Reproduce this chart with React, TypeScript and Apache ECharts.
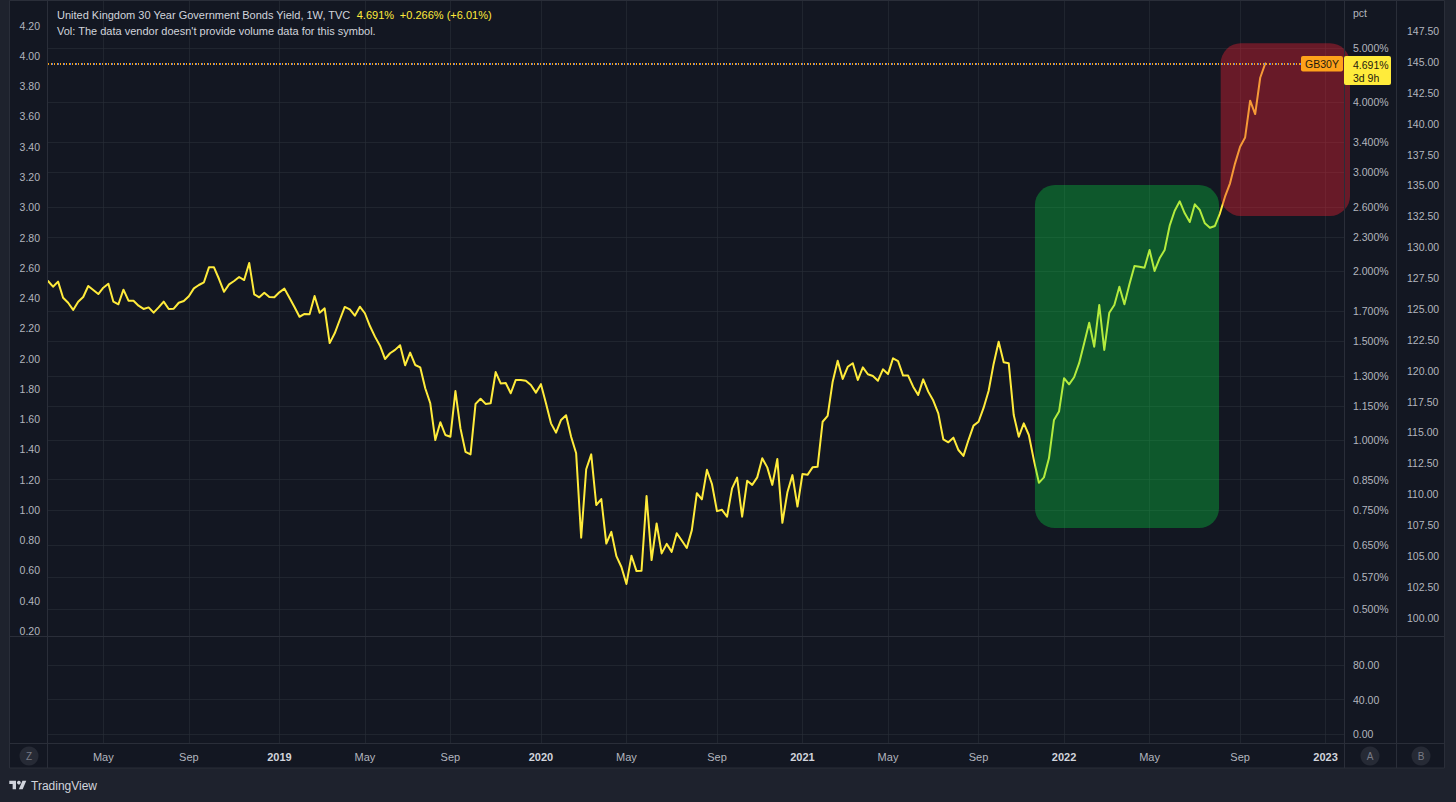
import React, { useEffect, useRef } from "react";
import * as echarts from "echarts";

// ---------- data ----------
const START_WEEK = "2018-02-19"; // first weekly bar (Monday)
const AXIS_FIRST_DAY = "2018-02-19";
const AXIS_LAST_DAY = "2023-01-29";

const YIELDS: number[] = [
  1.921, 1.877, 1.916, 1.794, 1.757, 1.706, 1.765, 1.799, 1.882, 1.851,
  1.821, 1.869, 1.9, 1.765, 1.746, 1.854, 1.772, 1.772, 1.736, 1.713,
  1.724, 1.687, 1.724, 1.765, 1.713, 1.715, 1.757, 1.77, 1.804, 1.864,
  1.89, 1.911, 2.032, 2.032, 1.937, 1.838, 1.895, 1.921, 1.953, 1.929,
  2.069, 1.819, 1.797, 1.831, 1.799, 1.797, 1.834, 1.862, 1.794, 1.727,
  1.659, 1.678, 1.676, 1.806, 1.687, 1.717, 1.489, 1.55, 1.637, 1.727,
  1.71, 1.666, 1.729, 1.683, 1.597, 1.529, 1.473, 1.395, 1.428, 1.448,
  1.476, 1.359, 1.432, 1.361, 1.348, 1.237, 1.163, 1.0, 1.076, 1.021,
  1.014, 1.223, 1.049, 0.953, 0.943, 1.16, 1.185, 1.16, 1.163, 1.322,
  1.262, 1.264, 1.212, 1.28, 1.28, 1.276, 1.254, 1.215, 1.258, 1.163,
  1.071, 1.031, 1.086, 1.107, 1.014, 0.947, 0.67, 0.887, 0.943, 0.766,
  0.785, 0.654, 0.686, 0.621, 0.594, 0.554, 0.622, 0.584, 0.585, 0.795,
  0.611, 0.71, 0.628, 0.653, 0.632, 0.682, 0.662, 0.642, 0.691, 0.804,
  0.784, 0.885, 0.835, 0.747, 0.751, 0.73, 0.82, 0.857, 0.73, 0.846,
  0.832, 0.858, 0.928, 0.894, 0.832, 0.925, 0.712, 0.807, 0.866, 0.761,
  0.87, 0.867, 0.894, 0.896, 1.078, 1.104, 1.271, 1.385, 1.285, 1.351,
  1.371, 1.28, 1.348, 1.31, 1.301, 1.276, 1.337, 1.311, 1.399, 1.383,
  1.303, 1.303, 1.245, 1.203, 1.283, 1.22, 1.176, 1.116, 1.003, 0.991,
  1.01, 0.96, 0.937, 1.0, 1.061, 1.078, 1.141, 1.223, 1.367, 1.497,
  1.376, 1.371, 1.108, 1.014, 1.071, 1.021, 0.921, 0.839, 0.858, 0.928,
  1.086, 1.124, 1.289, 1.257, 1.294, 1.371, 1.488, 1.619, 1.467, 1.741,
  1.448, 1.687, 1.741, 1.877, 1.746, 1.895, 2.043, 2.037, 2.029, 2.182,
  2.002, 2.109, 2.182, 2.411, 2.564, 2.665, 2.537, 2.447, 2.632, 2.571,
  2.435, 2.391, 2.408, 2.537, 2.716, 2.869, 3.114, 3.334, 3.463, 4.027,
  3.813, 4.425, 4.691,
];

const PCT_TICKS = [0.5, 0.57, 0.65, 0.75, 0.85, 1, 1.15, 1.3, 1.5, 1.7, 2, 2.3, 2.6, 3, 3.4, 4, 5];
const PCT_RANGE = [0.4474, 6.064];
const LEFT_TICKS = [0.2, 0.4, 0.6, 0.8, 1.0, 1.2, 1.4, 1.6, 1.8, 2.0, 2.2, 2.4, 2.6, 2.8, 3.0, 3.2, 3.4, 3.6, 3.8, 4.0, 4.2];
const LEFT_RANGE = [0.167, 4.363];
const RIGHT_TICKS = [100, 102.5, 105, 107.5, 110, 112.5, 115, 117.5, 120, 122.5, 125, 127.5, 130, 132.5, 135, 137.5, 140, 142.5, 145, 147.5];
const RIGHT_RANGE = [98.52, 149.94];
const LOWER_TICKS = [0, 40, 80];
const LOWER_RANGE = [-10.43, 112.46];
const TIME_TICKS = [
  "2018-05-07", "2018-09-03", "2019-01-07", "2019-05-06", "2019-09-02",
  "2020-01-06", "2020-05-04", "2020-09-07", "2021-01-04", "2021-05-03",
  "2021-09-06", "2022-01-03", "2022-05-02", "2022-09-05", "2023-01-02",
];
const MONTHS = ["Jan", "Feb", "Mar", "Apr", "May", "Jun", "Jul", "Aug", "Sep", "Oct", "Nov", "Dec"];

// highlighted ranges (time from, time to, yield low, yield high)
const BOX_FROM = ["2021-11-23T12:00:00Z", "2022-08-09T00:00:00Z"];
const BOX_TO = ["2022-08-06T17:00:00Z", "2023-02-05T00:00:00Z"];
const BOX_LOW = [0.697, 2.509];
const BOX_HIGH = [2.849, 5.097];

const SYMBOL = "GB30Y";
const TITLE = "United Kingdom 30 Year Government Bonds Yield, 1W, TVC";
const VOL_NOTE = "Vol: The data vendor doesn't provide volume data for this symbol.";
const COUNTDOWN = "3d 9h";

// ---------- styles ----------
const FONT = "'Liberation Sans', Arial, sans-serif";
const BOX_COLORS = ["rgba(4, 240, 70, 0.3)", "rgba(232, 33, 50, 0.4)"];
const GRID_COLOR = "rgba(42, 46, 57, 0.6)";
const SEP_COLOR = "#2a2e39";
const TEXT = "#b2b5be";
const LIGHT = "#d1d4dc";
const YELLOW = "#ffeb3b";

const DAY = 86400000;
const utc = (s: string) => Date.parse(s.length === 10 ? s + "T00:00:00Z" : s);
const t0 = utc(START_WEEK);
const WEEKS = YIELDS.map((_, i) => t0 + i * 7 * DAY);
const X_MIN = utc(AXIS_FIRST_DAY);
const X_MAX = utc(AXIS_LAST_DAY);
const TIME_TS = TIME_TICKS.map(utc);
const LAST = YIELDS[YIELDS.length - 1];
const PREV = YIELDS[YIELDS.length - 2];

const TV_PATH = "M14 22H7V11H0V4h14v18zM28 22h-8l7.5-18h8L28 22z";
echarts.graphic.registerShape("tvlogo", echarts.graphic.extendPath(TV_PATH, {}) as any);

function timeFormatter(v: number) {
  const d = new Date(v);
  return d.getUTCMonth() === 0 ? `{y|${d.getUTCFullYear()}}` : `{m|${MONTHS[d.getUTCMonth()]}}`;
}

function buildOption(): any {
  const yLabel = { color: TEXT, fontSize: 10.5, fontFamily: FONT };
  const xAxisBase = {
    type: "value",
    min: X_MIN,
    max: X_MAX,
    axisLine: { show: false },
    axisTick: { show: false, customValues: TIME_TS },
    splitLine: { show: true, lineStyle: { color: GRID_COLOR, width: 1 } },
  };
  return {
    animation: false,
    backgroundColor: "#1e222d",
    textStyle: { fontFamily: FONT },
    grid: [
      { left: 48, right: 111, top: 1, height: 635 },
      { left: 48, right: 111, top: 637, height: 106 },
    ],
    xAxis: [
      { ...xAxisBase, gridIndex: 0, axisLabel: { show: false, customValues: TIME_TS } },
      {
        ...xAxisBase,
        gridIndex: 1,
        axisLabel: {
          customValues: TIME_TS,
          formatter: timeFormatter,
          margin: 8,
          rich: {
            y: { color: LIGHT, fontSize: 11, fontFamily: FONT, fontWeight: "bold" },
            m: { color: TEXT, fontSize: 11, fontFamily: FONT },
          },
        },
      },
    ],
    yAxis: [
      { type: "log", logBase: 10, gridIndex: 0, min: PCT_RANGE[0], max: PCT_RANGE[1], show: false },
      {
        type: "value",
        gridIndex: 0,
        position: "right",
        min: Math.log10(PCT_RANGE[0]),
        max: Math.log10(PCT_RANGE[1]),
        axisLine: { show: false },
        axisTick: { show: false, customValues: PCT_TICKS.map(Math.log10) },
        axisLabel: {
          ...yLabel,
          margin: 8,
          customValues: PCT_TICKS.map(Math.log10),
          formatter: (v: number) => Math.pow(10, v).toFixed(3) + "%",
        },
        splitLine: { show: true, lineStyle: { color: GRID_COLOR, width: 1 } },
      },
      {
        type: "value",
        gridIndex: 0,
        position: "left",
        min: LEFT_RANGE[0],
        max: LEFT_RANGE[1],
        axisLine: { show: false },
        axisTick: { show: false, customValues: LEFT_TICKS },
        axisLabel: { ...yLabel, margin: 8, customValues: LEFT_TICKS, formatter: (v: number) => v.toFixed(2) },
        splitLine: { show: false },
      },
      {
        type: "value",
        gridIndex: 0,
        position: "right",
        offset: 52,
        min: RIGHT_RANGE[0],
        max: RIGHT_RANGE[1],
        axisLine: { show: false },
        axisTick: { show: false, customValues: RIGHT_TICKS },
        axisLabel: { ...yLabel, margin: 10, customValues: RIGHT_TICKS, formatter: (v: number) => v.toFixed(2) },
        splitLine: { show: false },
      },
      {
        type: "value",
        gridIndex: 1,
        position: "right",
        min: LOWER_RANGE[0],
        max: LOWER_RANGE[1],
        axisLine: { show: false },
        axisTick: { show: false, customValues: LOWER_TICKS },
        axisLabel: { ...yLabel, margin: 8, customValues: LOWER_TICKS, formatter: (v: number) => v.toFixed(2) },
        splitLine: { show: true, lineStyle: { color: GRID_COLOR, width: 1 } },
      },
    ],
    series: [
      {
        type: "line",
        name: SYMBOL,
        xAxisIndex: 0,
        yAxisIndex: 0,
        data: WEEKS.map((t, i) => [t, YIELDS[i]]),
        showSymbol: false,
        symbol: "none",
        lineStyle: { color: YELLOW, width: 2, join: "round", cap: "round" },
        z: 3,
        markLine: {
          silent: true,
          symbol: ["none", "none"],
          label: { show: false },
          data: [
            { yAxis: LAST, lineStyle: { color: "#f7a21b", width: 2, type: [1, 2], dashOffset: 0 } },
            { yAxis: LAST, lineStyle: { color: "#4f7ff0", width: 2, type: [1, 5], dashOffset: 1.5 } },
          ],
        },
      },
      {
        type: "custom",
        xAxisIndex: 0,
        yAxisIndex: 0,
        silent: true,
        clip: false,
        z: 4,
        encode: { x: [0, 2], y: [1, 3] },
        data: BOX_FROM.map((f, i) => [utc(f), BOX_LOW[i], utc(BOX_TO[i]), BOX_HIGH[i]]),
        renderItem: (params: any, api: any) => {
          const a = api.coord([api.value(0), api.value(3)]);
          const b = api.coord([api.value(2), api.value(1)]);
          return {
            type: "rect",
            shape: { x: a[0], y: a[1], width: b[0] - a[0], height: b[1] - a[1], r: 20 },
            style: { fill: BOX_COLORS[params.dataIndex] },
          };
        },
      },
    ],
  };
}

function txt(x: number, y: number, text: string, extra: any = {}, z = 20): any {
  return {
    type: "text",
    x,
    y,
    z,
    silent: true,
    style: {
      text,
      fill: extra.fill || TEXT,
      fontSize: extra.fontSize || 10.5,
      fontFamily: FONT,
      fontWeight: extra.fontWeight || "normal",
      align: extra.align || "left",
      textAlign: extra.align || "left",
      verticalAlign: "middle",
      textVerticalAlign: "middle",
      rich: extra.rich,
    },
  };
}

function line(x1: number, y1: number, x2: number, y2: number): any {
  return {
    type: "line",
    z: 5,
    silent: true,
    shape: { x1, y1, x2, y2 },
    style: { stroke: SEP_COLOR, lineWidth: 1 },
  };
}

function button(cx: number, cy: number, label: string): any[] {
  return [
    { type: "circle", z: 6, silent: true, shape: { cx, cy, r: 9.5 }, style: { fill: "#262a35" } },
    txt(cx, cy, label, { align: "center", fill: "#787b86", fontSize: 10 }, 7),
  ];
}

function buildGraphics(py: number): any[] {
  const change = LAST - PREV;
  const changePct = (change / PREV) * 100;
  const sign = change >= 0 ? "+" : "";
  const header =
    `{t|${TITLE}}  {v|${LAST.toFixed(3)}%}  {v|${sign}${change.toFixed(3)}% (${sign}${changePct.toFixed(2)}%)}`;
  return [
    {
      type: "rect",
      z: -10,
      silent: true,
      shape: { x: 9.5, y: 0.5, width: 1435, height: 767.5 },
      style: { fill: "#131722", stroke: SEP_COLOR, lineWidth: 1 },
    },
    line(47.5, 0, 47.5, 768),
    line(1344.5, 0, 1344.5, 768),
    line(1396.5, 0, 1396.5, 768),
    line(9, 636.5, 1445, 636.5),
    line(9, 743.5, 1445, 743.5),
    txt(57, 15, header, {
      rich: {
        t: { fill: LIGHT, color: LIGHT, fontSize: 11, fontFamily: FONT },
        v: { fill: YELLOW, color: YELLOW, fontSize: 11, fontFamily: FONT },
      },
    }),
    txt(57, 31, VOL_NOTE, { fill: LIGHT, fontSize: 11 }),
    txt(1353, 13, "pct", { fill: TEXT, fontSize: 10.5 }),
    ...button(29, 756, "Z"),
    ...button(1370, 756, "A"),
    ...button(1421, 756, "B"),
    { type: "tvlogo", x: 9.3, y: 778.8, scaleX: 0.478, scaleY: 0.478, z: 6, silent: true, style: { fill: LIGHT } },
    { type: "circle", z: 6, silent: true, shape: { cx: 18.9, cy: 782.6, r: 1.9 }, style: { fill: LIGHT } },
    txt(31, 786, "TradingView", { fill: LIGHT, fontSize: 12 }),
    // last value labels
    {
      type: "rect",
      z: 30,
      silent: true,
      shape: { x: 1301, y: py - 7.5, width: 42, height: 15.5, r: 2 },
      style: { fill: "#ffa21a" },
    },
    txt(1322, py + 0.5, SYMBOL, { align: "center", fill: "#1e1a10", fontSize: 10.5 }, 31),
    {
      type: "rect",
      z: 30,
      silent: true,
      shape: { x: 1344, y: py - 7.5, width: 47, height: 29, r: 2 },
      style: { fill: YELLOW },
    },
    txt(1353, py + 1, LAST.toFixed(3) + "%", { fill: "#1e1a10", fontSize: 10.5 }, 31),
    txt(1353, py + 14.5, COUNTDOWN, { fill: "#1e1a10", fontSize: 10.5 }, 31),
  ];
}

export default function App() {
  const ref = useRef<HTMLDivElement>(null);
  useEffect(() => {
    const el = ref.current as HTMLDivElement;
    const chart = echarts.init(el, null, { renderer: "svg" });
    chart.setOption(buildOption());
    const py = chart.convertToPixel({ yAxisIndex: 0 } as any, LAST) as unknown as number;
    chart.setOption({ graphic: buildGraphics(py) });
    return () => chart.dispose();
  }, []);
  return (
    <div
      ref={ref}
      style={{ position: "fixed", left: 0, top: 0, width: 1456, height: 802 }}
    />
  );
}
